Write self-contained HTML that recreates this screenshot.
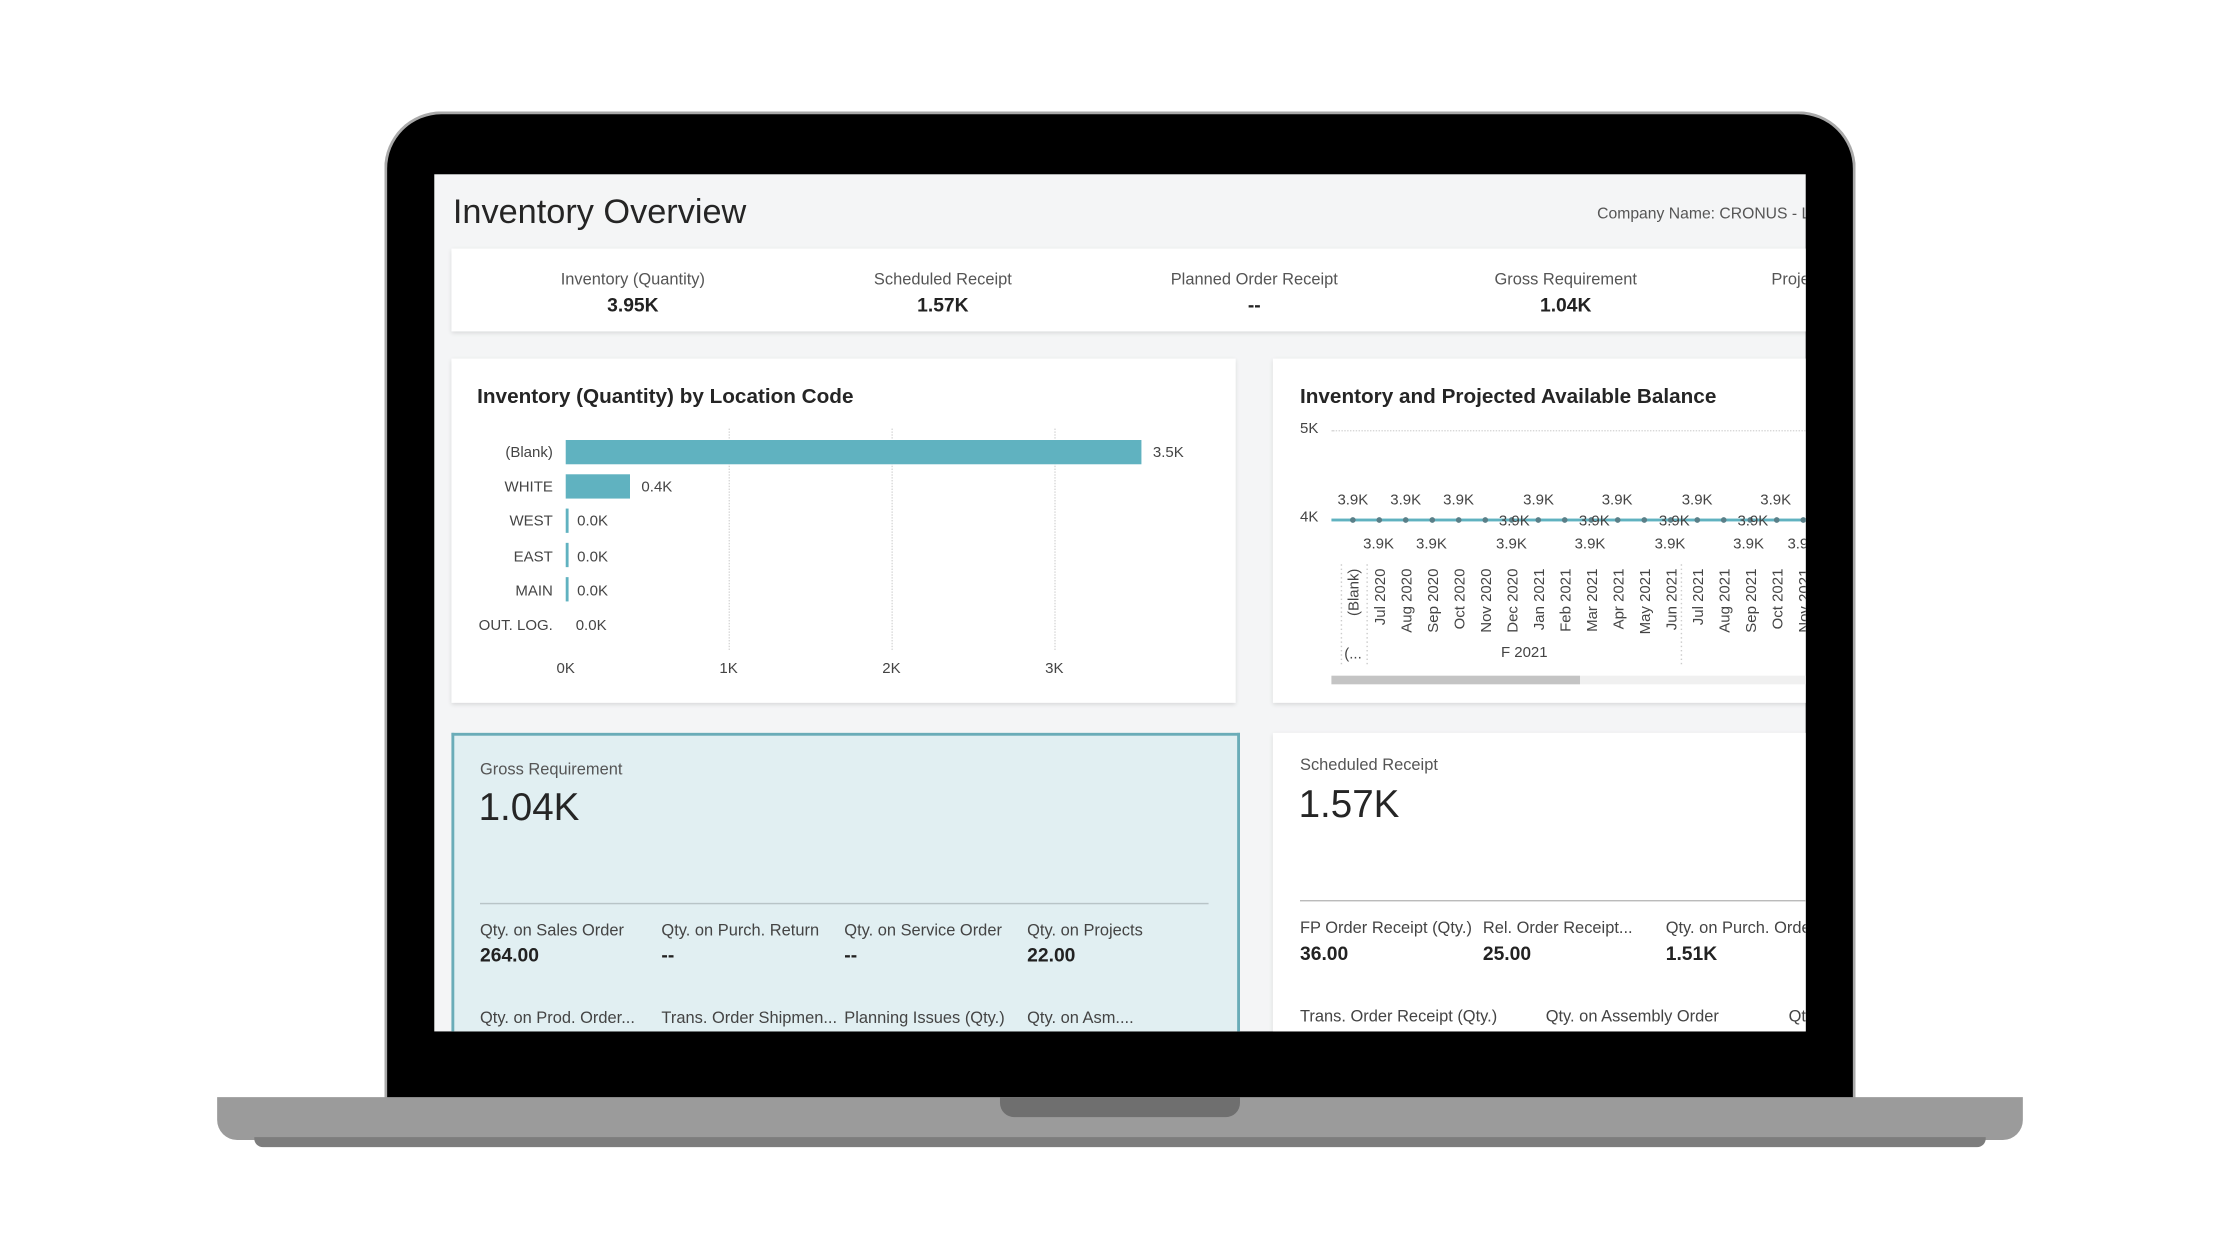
<!DOCTYPE html>
<html><head><meta charset="utf-8"><style>
html,body{margin:0;padding:0;background:#fff;width:2240px;height:1260px;overflow:hidden}
#w{position:absolute;left:0;top:0;width:1568px;height:882px;transform:scale(1.428571);transform-origin:0 0;font-family:"Liberation Sans",sans-serif}
.a{position:absolute;white-space:nowrap}
.lbl{font-size:11.5px;color:#555;margin-top:2px}
.val{font-size:13.5px;color:#222;font-weight:bold;margin-top:1px}
.ax{font-size:10.5px;color:#444;margin-top:1px}
.c{transform:translateX(-50%)}
.t{margin-top:2px}
.g{border-left:1px dotted #d8d8d8}
</style></head><body><div id="w">
<!-- laptop -->
<div class="a" style="left:269px;top:78px;width:1026px;height:700px;background:#000;border:2px solid #a9a9a9;border-bottom:none;border-radius:40px 40px 0 0"></div>
<div class="a" style="left:152px;top:768px;width:1264px;height:30px;background:#9b9b9b;border-radius:0 0 14px 14px"></div>
<div class="a" style="left:178px;top:796px;width:1212px;height:7px;background:#7d7d7d;border-radius:0 0 6px 6px"></div>
<div class="a" style="left:700px;top:768px;width:168px;height:14px;background:#6f6f6f;border-radius:0 0 10px 10px"></div>
<!-- screen -->
<div class="a" style="left:304px;top:122px;width:960px;height:600px;background:#f4f5f6;overflow:hidden">
 <div style="position:absolute;left:-304px;top:-122px;width:1568px;height:882px">
  <div class="a t" style="left:317px;top:133px;font-size:24px;color:#252525">Inventory Overview</div>
  <div class="a" style="left:1118px;top:144px;font-size:11px;color:#555">Company Name: CRONUS - Ltd</div>
  <div class="a" style="left:316px;top:174px;width:960px;height:58px;background:#fff;box-shadow:0 1px 3px rgba(0,0,0,.12)"></div>
  <div class="a lbl c" style="left:443px;top:188px">Inventory (Quantity)</div><div class="a val c" style="left:443px;top:205px">3.95K</div>
  <div class="a lbl c" style="left:660px;top:188px">Scheduled Receipt</div><div class="a val c" style="left:660px;top:205px">1.57K</div>
  <div class="a lbl c" style="left:878px;top:188px">Planned Order Receipt</div><div class="a val c" style="left:878px;top:205px">--</div>
  <div class="a lbl c" style="left:1096px;top:188px">Gross Requirement</div><div class="a val c" style="left:1096px;top:205px">1.04K</div>
  <div class="a lbl" style="left:1240px;top:188px">Projected</div>
  <!-- card1 -->
  <div class="a" style="left:316px;top:251px;width:549px;height:241px;background:#fff;box-shadow:0 1px 3px rgba(0,0,0,.12)"></div>
  <div class="a t" style="left:334px;top:268px;font-size:14.5px;font-weight:bold;color:#252525">Inventory (Quantity) by Location Code</div>
  <div class="a g" style="left:510px;top:300px;height:155px"></div>
  <div class="a g" style="left:624px;top:300px;height:155px"></div>
  <div class="a g" style="left:738px;top:300px;height:155px"></div>
  <div class="a" style="left:396px;top:308px;width:403px;height:17px;background:#60b2c0"></div>
  <div class="a" style="left:396px;top:332px;width:45px;height:17px;background:#60b2c0"></div>
  <div class="a" style="left:396px;top:356px;width:2px;height:17px;background:#60b2c0"></div>
  <div class="a" style="left:396px;top:380px;width:2px;height:17px;background:#60b2c0"></div>
  <div class="a" style="left:396px;top:404px;width:2px;height:17px;background:#60b2c0"></div>
  <div class="a ax" style="right:1181px;top:310px">(Blank)</div><div class="a ax" style="left:807px;top:310px">3.5K</div>
  <div class="a ax" style="right:1181px;top:334px">WHITE</div><div class="a ax" style="left:449px;top:334px">0.4K</div>
  <div class="a ax" style="right:1181px;top:358px">WEST</div><div class="a ax" style="left:404px;top:358px">0.0K</div>
  <div class="a ax" style="right:1181px;top:383px">EAST</div><div class="a ax" style="left:404px;top:383px">0.0K</div>
  <div class="a ax" style="right:1181px;top:407px">MAIN</div><div class="a ax" style="left:404px;top:407px">0.0K</div>
  <div class="a ax" style="right:1181px;top:431px">OUT. LOG.</div><div class="a ax" style="left:403px;top:431px">0.0K</div>
  <div class="a ax c" style="left:396px;top:461px">0K</div><div class="a ax c" style="left:510px;top:461px">1K</div>
  <div class="a ax c" style="left:624px;top:461px">2K</div><div class="a ax c" style="left:738px;top:461px">3K</div>
  <!-- card2 -->
  <div class="a" style="left:891px;top:251px;width:400px;height:241px;background:#fff;box-shadow:0 1px 3px rgba(0,0,0,.12)"></div>
  <div class="a t" style="left:910px;top:268px;font-size:14.5px;font-weight:bold;color:#252525">Inventory and Projected Available Balance</div>
  <div class="a ax" style="left:910px;top:293px">5K</div>
  <div class="a" style="left:932px;top:301px;width:340px;border-top:1px dotted #d8d8d8"></div>
  <div class="a ax" style="left:910px;top:355px">4K</div>
  <div class="a" style="left:932px;top:363px;width:340px;height:2px;background:#60b2c0"></div>
  <svg class="a" style="left:0;top:0" width="1568" height="882">
   <g fill="#5a7f88">
    <circle cx="947" cy="364" r="2"/><circle cx="965.5" cy="364" r="2"/><circle cx="984" cy="364" r="2"/><circle cx="1002.6" cy="364" r="2"/><circle cx="1021.1" cy="364" r="2"/><circle cx="1039.7" cy="364" r="2"/><circle cx="1058.2" cy="364" r="2"/><circle cx="1076.8" cy="364" r="2"/><circle cx="1095.3" cy="364" r="2"/><circle cx="1113.9" cy="364" r="2"/><circle cx="1132.4" cy="364" r="2"/><circle cx="1151" cy="364" r="2"/><circle cx="1169.5" cy="364" r="2"/><circle cx="1188.1" cy="364" r="2"/><circle cx="1206.6" cy="364" r="2"/><circle cx="1225.2" cy="364" r="2"/><circle cx="1243.7" cy="364" r="2"/><circle cx="1262.3" cy="364" r="2"/>
   </g>
   <g font-family="Liberation Sans" font-size="10.5" fill="#444" text-anchor="middle">
    <text x="947" y="353">3.9K</text><text x="984" y="353">3.9K</text><text x="1021" y="353">3.9K</text><text x="1077" y="353">3.9K</text><text x="1132" y="353">3.9K</text><text x="1188" y="353">3.9K</text><text x="1243" y="353">3.9K</text>
    <text x="965" y="384">3.9K</text><text x="1002" y="384">3.9K</text><text x="1058" y="384">3.9K</text><text x="1113" y="384">3.9K</text><text x="1169" y="384">3.9K</text><text x="1224" y="384">3.9K</text><text x="1262" y="384">3.9K</text>
    <text x="1060" y="368">3.9K</text><text x="1116" y="368">3.9K</text><text x="1172" y="368">3.9K</text><text x="1227" y="368">3.9K</text>
   </g>
   <g font-family="Liberation Sans" font-size="10.5" fill="#444" text-anchor="end">
    <text transform="translate(951,398) rotate(-90)">(Blank)</text>
    <text transform="translate(969.5,398) rotate(-90)">Jul 2020</text>
    <text transform="translate(988,398) rotate(-90)">Aug 2020</text>
    <text transform="translate(1006.6,398) rotate(-90)">Sep 2020</text>
    <text transform="translate(1025.1,398) rotate(-90)">Oct 2020</text>
    <text transform="translate(1043.7,398) rotate(-90)">Nov 2020</text>
    <text transform="translate(1062.2,398) rotate(-90)">Dec 2020</text>
    <text transform="translate(1080.8,398) rotate(-90)">Jan 2021</text>
    <text transform="translate(1099.3,398) rotate(-90)">Feb 2021</text>
    <text transform="translate(1117.9,398) rotate(-90)">Mar 2021</text>
    <text transform="translate(1136.4,398) rotate(-90)">Apr 2021</text>
    <text transform="translate(1155,398) rotate(-90)">May 2021</text>
    <text transform="translate(1173.5,398) rotate(-90)">Jun 2021</text>
    <text transform="translate(1192.1,398) rotate(-90)">Jul 2021</text>
    <text transform="translate(1210.6,398) rotate(-90)">Aug 2021</text>
    <text transform="translate(1229.2,398) rotate(-90)">Sep 2021</text>
    <text transform="translate(1247.7,398) rotate(-90)">Oct 2021</text>
    <text transform="translate(1266.3,398) rotate(-90)">Nov 2021</text>
   </g>
   <g stroke="#ccc" stroke-dasharray="1,2"><line x1="939" y1="395" x2="939" y2="465"/><line x1="957" y1="395" x2="957" y2="465"/><line x1="1177" y1="395" x2="1177" y2="465"/></g>
   <g font-family="Liberation Sans" font-size="10.5" fill="#444"><text x="941" y="461">(...</text><text x="1067" y="460" text-anchor="middle">F 2021</text></g>
  </svg>
  <div class="a" style="left:932px;top:473px;width:340px;height:6px;background:#f0f0f0"></div>
  <div class="a" style="left:932px;top:473px;width:174px;height:6px;background:#c4c4c4"></div>
  <!-- card3 -->
  <div class="a" style="left:316px;top:513px;width:548px;height:230px;background:#e1eff2;border:2px solid #6aacb8;border-bottom:none"></div>
  <div class="a lbl" style="left:336px;top:531px">Gross Requirement</div>
  <div class="a t" style="left:335px;top:548px;font-size:27px;color:#252525">1.04K</div>
  <div class="a" style="left:336px;top:632px;width:510px;height:1px;background:#b8c4c7"></div>
  <div class="a lbl" style="left:336px;top:644px;color:#444">Qty. on Sales Order</div><div class="a val" style="left:336px;top:660px">264.00</div>
  <div class="a lbl" style="left:463px;top:644px;color:#444">Qty. on Purch. Return</div><div class="a val" style="left:463px;top:660px">--</div>
  <div class="a lbl" style="left:591px;top:644px;color:#444">Qty. on Service Order</div><div class="a val" style="left:591px;top:660px">--</div>
  <div class="a lbl" style="left:719px;top:644px;color:#444">Qty. on Projects</div><div class="a val" style="left:719px;top:660px">22.00</div>
  <div class="a lbl" style="left:336px;top:705px;color:#444">Qty. on Prod. Order...</div>
  <div class="a lbl" style="left:463px;top:705px;color:#444">Trans. Order Shipmen...</div>
  <div class="a lbl" style="left:591px;top:705px;color:#444">Planning Issues (Qty.)</div>
  <div class="a lbl" style="left:719px;top:705px;color:#444">Qty. on Asm....</div>
  <!-- card4 -->
  <div class="a" style="left:891px;top:513px;width:400px;height:230px;background:#fff;box-shadow:0 1px 3px rgba(0,0,0,.12)"></div>
  <div class="a lbl" style="left:910px;top:528px">Scheduled Receipt</div>
  <div class="a t" style="left:909px;top:546px;font-size:27px;color:#252525">1.57K</div>
  <div class="a" style="left:910px;top:630px;width:360px;height:1px;background:#bbb"></div>
  <div class="a lbl" style="left:910px;top:642px;color:#444">FP Order Receipt (Qty.)</div><div class="a val" style="left:910px;top:659px">36.00</div>
  <div class="a lbl" style="left:1038px;top:642px;color:#444">Rel. Order Receipt...</div><div class="a val" style="left:1038px;top:659px">25.00</div>
  <div class="a lbl" style="left:1166px;top:642px;color:#444">Qty. on Purch. Order</div><div class="a val" style="left:1166px;top:659px">1.51K</div>
  <div class="a lbl" style="left:910px;top:704px;color:#444">Trans. Order Receipt (Qty.)</div>
  <div class="a lbl" style="left:1082px;top:704px;color:#444">Qty. on Assembly Order</div>
  <div class="a lbl" style="left:1252px;top:704px;color:#444">Qty.</div>
 </div>
</div>
</div></body></html>
